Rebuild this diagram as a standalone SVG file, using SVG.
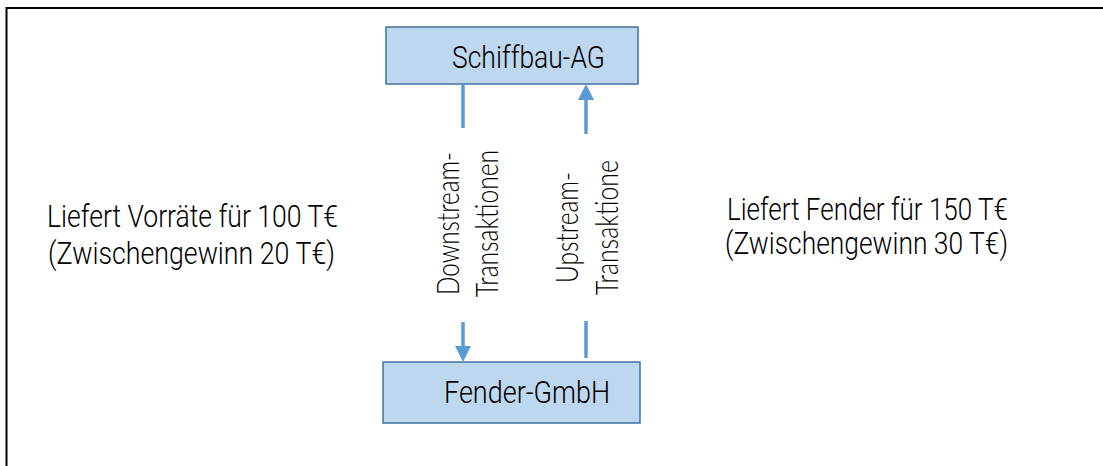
<svg xmlns="http://www.w3.org/2000/svg" width="1103" height="466" viewBox="0 0 1103 466">
  <style>
    .frame { fill: none; stroke: #000; stroke-width: 2; }
    .box { fill: #BDD7EE; stroke: #41719C; stroke-width: 1.5; }
    .lbl { font-family: Roboto, "Liberation Sans", Arial, sans-serif; font-weight: 300; font-size: 31px; fill: #000; }
    .vlbl { font-family: Lato, "Liberation Sans", sans-serif; font-weight: 300; font-size: 32px; fill: #000; }
    .flow { stroke: #5B9BD5; stroke-width: 3.5; fill: none; }
    .head { fill: #5B9BD5; }
  </style>

  <!-- outer frame: only the top and left edges fall inside the page -->
  <path class="frame" d="M6.5,466 V8 H1103"/>

  <!-- parent company -->
  <g id="schiffbau-ag">
    <rect class="box" x="386" y="27" width="252" height="57"/>
    <text class="lbl" x="452" y="68" textLength="153" lengthAdjust="spacingAndGlyphs">Schiffbau-AG</text>
  </g>

  <!-- subsidiary -->
  <g id="fender-gmbh">
    <rect class="box" x="383" y="362" width="257" height="61"/>
    <text class="lbl" x="444" y="403" textLength="166" lengthAdjust="spacingAndGlyphs">Fender-GmbH</text>
  </g>

  <!-- transaction flows -->
  <g id="connectors">
    <!-- downstream: parent to subsidiary -->
    <line class="flow" x1="463" y1="84" x2="463" y2="128"/>
    <line class="flow" x1="463" y1="322" x2="463" y2="347"/>
    <polygon class="head" points="455,346 471,346 463,362"/>
    <!-- upstream: subsidiary to parent -->
    <polygon class="head" points="578,100 594,100 586,84"/>
    <line class="flow" x1="586" y1="99" x2="586" y2="134"/>
    <line class="flow" x1="586" y1="321" x2="586" y2="358"/>
  </g>

  <!-- flow labels, written bottom to top -->
  <g id="downstream-label">
    <text class="vlbl" transform="translate(459,295) rotate(-90)" textLength="143" lengthAdjust="spacingAndGlyphs">Downstream-</text>
    <text class="vlbl" transform="translate(498,297) rotate(-90)" textLength="147" lengthAdjust="spacingAndGlyphs">Transaktionen</text>
  </g>
  <g id="upstream-label">
    <text class="vlbl" transform="translate(578,283) rotate(-90)" textLength="111" lengthAdjust="spacingAndGlyphs">Upstream-</text>
    <text class="vlbl" transform="translate(618,295) rotate(-90)" textLength="135" lengthAdjust="spacingAndGlyphs">Transaktione</text>
  </g>

  <!-- side notes -->
  <g id="note-downstream">
    <text class="lbl" x="47" y="227" textLength="291" lengthAdjust="spacingAndGlyphs">Liefert Vorräte für 100 T€</text>
    <text class="lbl" x="48" y="264" textLength="287" lengthAdjust="spacingAndGlyphs">(Zwischengewinn 20 T€)</text>
  </g>
  <g id="note-upstream">
    <text class="lbl" x="727" y="220" textLength="281" lengthAdjust="spacingAndGlyphs">Liefert Fender für 150 T€</text>
    <text class="lbl" x="725" y="254" textLength="283" lengthAdjust="spacingAndGlyphs">(Zwischengewinn 30 T€)</text>
  </g>
</svg>
